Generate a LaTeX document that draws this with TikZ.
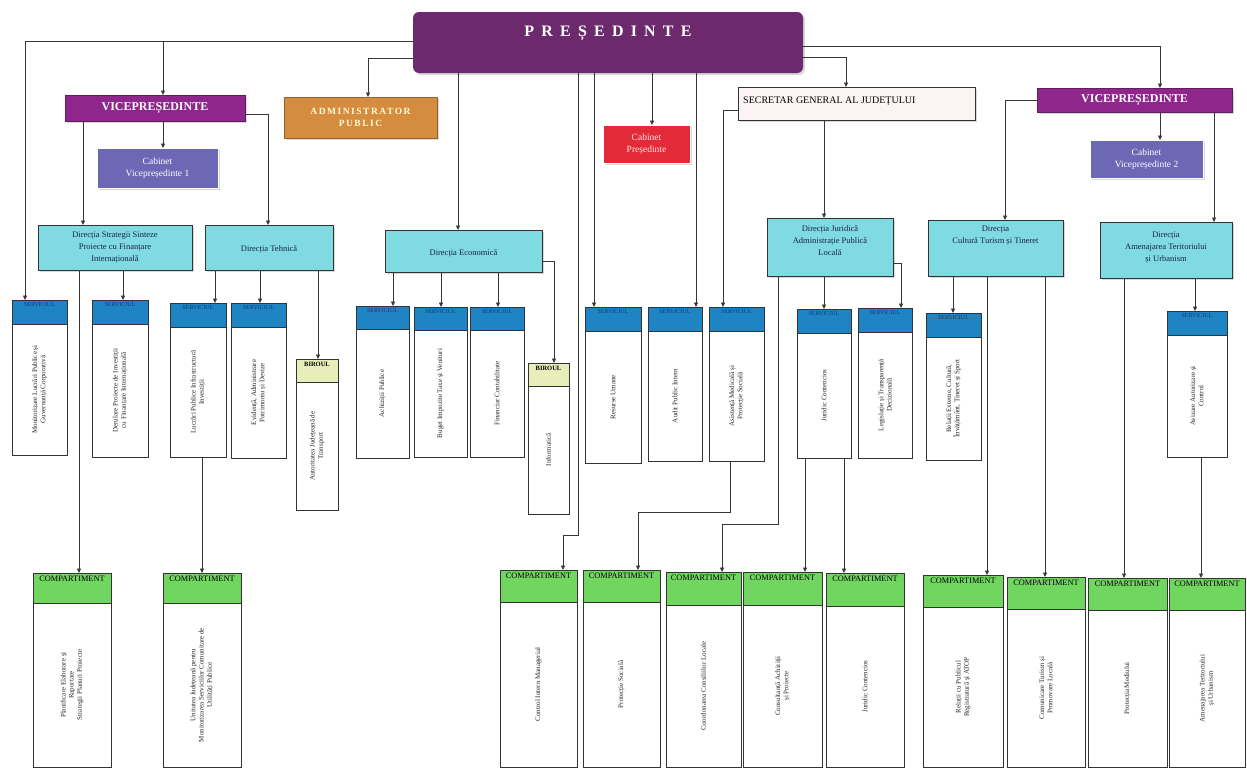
\documentclass[tikz,border=0pt]{standalone}
\usepackage{fontspec}
\setmainfont{Liberation Serif}
\newfontfamily\spacedfont[LetterSpace=45]{Liberation Serif}
\newfontfamily\admfont[LetterSpace=16]{Liberation Serif}
\usetikzlibrary{arrows.meta,calc,shadows}
\definecolor{cpres}{RGB}{108,42,108}
\definecolor{cvp}{RGB}{142,38,140}
\definecolor{cadm}{RGB}{214,140,62}
\definecolor{ccab}{RGB}{108,104,182}
\definecolor{ccabp}{RGB}{226,42,56}
\definecolor{csec}{RGB}{252,244,244}
\definecolor{cdir}{RGB}{128,218,226}
\definecolor{cserv}{RGB}{30,132,196}
\definecolor{cservt}{RGB}{20,60,110}
\definecolor{cbir}{RGB}{232,238,186}
\definecolor{ccomp}{RGB}{112,214,96}
\definecolor{cline}{RGB}{55,55,55}
\definecolor{cdtext}{RGB}{25,35,70}
\tikzset{
  base/.style={inner sep=0pt, outer sep=0pt, anchor=north west},
  shad/.style={drop shadow={shadow xshift=2pt,shadow yshift=-2pt,opacity=0.3}},
  presb/.style={base, fill=cpres, rounded corners=6pt, shad},
  vpb/.style={base, fill=cvp, draw=cvp!70!black, line width=0.5pt, shad, text=white,
     font=\bfseries\fontsize{12}{14}\selectfont},
  admb/.style={base, fill=cadm, draw=cadm!70!black, line width=0.5pt, shad, align=center,
     text=white!85!yellow, font=\admfont\bfseries\fontsize{9.5}{12}\selectfont},
  cabb/.style={base, fill=ccab, draw=white, line width=1pt, shad, align=center, text=white,
     font=\fontsize{9.5}{11.5}\selectfont},
  cabpb/.style={base, fill=ccabp, draw=white, line width=1pt, shad, align=center, text=white!90!red,
     font=\fontsize{9.5}{11.5}\selectfont},
  secb/.style={base, fill=csec, draw=black!80, line width=0.6pt, shad},
  dirb/.style={base, fill=cdir, draw=black!80, line width=0.8pt, shad},
  dirt/.style={inner sep=0pt, align=center, text=cdtext, font=\fontsize{8.5}{12}\selectfont},
  ubody/.style={base, fill=white, draw=black!80, line width=0.8pt},
  servh/.style={base, fill=cserv, draw=black!80, line width=0.8pt},
  birh/.style={base, fill=cbir, draw=black!80, line width=0.8pt},
  comph/.style={base, fill=ccomp, draw=black!80, line width=0.8pt},
  hlabel/.style={inner sep=0pt, font=\fontsize{6}{7}\selectfont},
  btext/.style={inner sep=0pt, rotate=90, align=center, text=black!85, font=\fontsize{7}{8.2}\selectfont},
  arr/.style={draw=cline, line width=0.7pt, -{Triangle[length=4.5pt,width=4pt]}},
}
% #1 name, #2 x1, #3 y1, #4 x2, #5 y2, #6 header style, #7 header height, #8 header label, #9 body text
\newcommand\unitbox[9]{%
  \node[ubody, minimum width={#4-#2}, minimum height={#5-#3}] (#1) at (#2,#3) {};
  \node[#6, minimum width={#4-#2}, minimum height={#7}] (#1h) at (#2,#3) {};
  \node[hlabel, anchor=north] (#1l) at ($(#1h.north)+(0,2.5)$) {#8};
  \node[btext] (#1t) at ($(#1h.south)!0.5!(#1.south)$) {#9};
}
\newcommand\dirbox[7]{%
  \node[dirb, minimum width={#4-#2}, minimum height={#5-#3}] (#1) at (#2,#3) {};
  \node[dirt] (#1t) at ($(#1.center)+(0,#6)$) {#7};
}
\newcommand\slab{{\color{cservt}SERVICIUL}}
\newcommand\blab{{\fontsize{6.5}{7}\selectfont\bfseries BIROUL}}
\newcommand\clab{{\fontsize{8.3}{9}\selectfont COMPARTIMENT}}
\begin{document}
\begin{tikzpicture}[x=1pt,y=-1pt]
\fill[white] (0,0) rectangle (1247,771);
\useasboundingbox (0,0) rectangle (1247,771);

% ---------- top level ----------
\node[presb, minimum width=390, minimum height=61] (pres) at (413,12) {};
\node[inner sep=0pt, text=white, font=\spacedfont\bfseries\fontsize{16}{18}\selectfont] (prest) at ($(pres.north)+(0,21)$) {PREȘEDINTE};

\node[vpb, minimum width=180, minimum height=26, anchor=north west] (vp1) at (65,95) {VICEPREȘEDINTE};
\node[cabb, minimum width=121, minimum height=40] (cab1) at (97,148) {Cabinet\\Vicepreședinte 1};
\node[admb, minimum width=153, minimum height=41] (adm) at (284,97) {ADMINISTRATOR\\PUBLIC};
\node[cabpb, minimum width=87, minimum height=38] (cabp) at (603,125) {Cabinet\\Președinte};
\node[secb, minimum width=237, minimum height=33] (sec) at (738,87) {};
\node[inner sep=0pt, anchor=west, font=\fontsize{10}{12}\selectfont] (sect) at ($(sec.west)+(5,-2)$) {SECRETAR GENERAL AL JUDEȚULUI};
\node[vpb, minimum width=195, minimum height=24] (vp2) at (1037,88) {VICEPREȘEDINTE};
\node[cabb, minimum width=113, minimum height=38] (cab2) at (1090,140) {Cabinet\\Vicepreședinte 2};

% ---------- directions ----------
\dirbox{dstr}{38}{225}{192}{270}{0}{Direcția Strategii Sinteze\\Proiecte cu Finanțare\\Internațională}
\dirbox{dteh}{205}{225}{333}{270}{2}{Direcția Tehnică}
\dirbox{deco}{385}{230}{542}{272}{2}{Direcția Economică}
\dirbox{djur}{767}{218}{893}{276}{-6}{Direcția Juridică\\Administrație Publică\\Locală}
\dirbox{dcul}{928}{220}{1063}{276}{-12}{Direcția\\Cultură Turism și Tineret}
\dirbox{dam}{1100}{222}{1232}{278}{-2}{Direcția\\Amenajarea Teritoriului\\și Urbanism}

% ---------- services / offices ----------
\unitbox{s1}{12}{300}{67}{455}{servh}{24}{\slab}{Monitorizare Lucrări Publice și\\Guvernanță Corporativă}
\unitbox{s2}{92}{300}{148}{457}{servh}{24}{\slab}{Derulare Proiecte de Investiții\\cu Finanțare Internațională}
\unitbox{s3}{170}{303}{226}{457}{servh}{24}{\slab}{Lucrări Publice Infrastructură\\Investiții}
\unitbox{s4}{231}{303}{286}{458}{servh}{24}{\slab}{Evidență, Administrare\\Patrimoniu și Devize}
\unitbox{b1}{296}{359}{338}{510}{birh}{23}{\blab}{Autoritatea Județeană de\\Transport}
\unitbox{s5}{356}{306}{409}{458}{servh}{23}{\slab}{Achiziții Publice}
\unitbox{s6}{414}{307}{467}{457}{servh}{23}{\slab}{Buget Impozite Taxe și Venituri}
\unitbox{s7}{470}{307}{524}{457}{servh}{23}{\slab}{Financiar Contabilitate}
\unitbox{b2}{528}{363}{569}{514}{birh}{23}{\blab}{Informatică}
\unitbox{s8}{585}{307}{641}{463}{servh}{24}{\slab}{Resurse Umane}
\unitbox{s9}{648}{307}{702}{461}{servh}{24}{\slab}{Audit Public Intern}
\unitbox{s10}{709}{307}{764}{461}{servh}{24}{\slab}{Asistență Medicală și\\Protecție Socială}
\unitbox{s11}{797}{309}{851}{458}{servh}{24}{\slab}{Juridic Contencios}
\unitbox{s12}{858}{308}{912}{458}{servh}{24}{\slab}{Legislație și Transparență\\Decizională}
\unitbox{s13}{926}{313}{981}{460}{servh}{24}{\slab}{Relații Externe, Cultură,\\Învățământ, Tineret și Sport}
\unitbox{s14}{1167}{311}{1227}{457}{servh}{24}{\slab}{Avizare Autorizare și\\Control}

% ---------- compartments ----------
\unitbox{c1}{33}{573}{111}{767}{comph}{30}{\clab}{Planificare Elaborare și\\Raportare\\Strategii Planuri Proiecte}
\unitbox{c2}{163}{573}{241}{767}{comph}{30}{\clab}{Unitatea Județeană pentru\\Monitorizarea Serviciilor Comunitare de\\Utilități Publice}
\unitbox{c3}{500}{570}{577}{767}{comph}{32}{\clab}{Control Intern Managerial}
\unitbox{c4}{583}{570}{660}{767}{comph}{32}{\clab}{Protecție Socială}
\unitbox{c5}{666}{572}{741}{767}{comph}{33}{\clab}{Coordonarea Consiliilor Locale}
\unitbox{c6}{743}{572}{822}{767}{comph}{33}{\clab}{Consultanță Achiziții\\și Proiecte}
\unitbox{c7}{826}{573}{904}{767}{comph}{33}{\clab}{Juridic Contencios}
\unitbox{c8}{923}{575}{1003}{767}{comph}{32}{\clab}{Relații cu Publicul\\Registratură și ATOP}
\unitbox{c9}{1007}{577}{1085}{767}{comph}{32}{\clab}{Comunicare Turism și\\Promovare Locală}
\unitbox{c10}{1088}{578}{1167}{767}{comph}{32}{\clab}{Protecția Mediului}
\unitbox{c11}{1169}{578}{1245}{767}{comph}{32}{\clab}{Amenajarea Teritoriului\\și Urbanism}

% ---------- ports ----------
\coordinate (s1in) at ($(s1.north west)+(13,0)$);
\coordinate (vp1in) at ($(vp1.north west)+(98,0)$);
\coordinate (admin) at ($(adm.north west)+(84,0)$);
\coordinate (cab1in) at ($(cab1.north west)+(66,0)$);
\coordinate (dstrin) at ($(dstr.north west)+(45,0)$);
\coordinate (dtehin) at ($(dteh.north west)+(63,0)$);
\coordinate (decoin) at ($(deco.north west)+(73,0)$);
\coordinate (j3) at ($(c3.north west)+(78,-35)$);
\coordinate (c3in) at ($(c3.north west)+(63,0)$);
\coordinate (s8in) at ($(s8.north west)+(9,0)$);
\coordinate (cabpin) at ($(cabp.north west)+(49,0)$);
\coordinate (s9in) at ($(s9.north west)+(48,0)$);
\coordinate (secin) at ($(sec.north west)+(108,0)$);
\coordinate (vp2in) at ($(vp2.north west)+(123,0)$);
\coordinate (cab2in) at ($(cab2.north west)+(70,0)$);
\coordinate (s10in) at ($(s10.north west)+(14,0)$);
\coordinate (djurin) at ($(djur.north west)+(57,0)$);
\coordinate (dculin) at ($(dcul.north west)+(77,0)$);
\coordinate (damin) at ($(dam.north west)+(114,0)$);
\coordinate (s2in) at ($(s2.north west)+(31,0)$);
\coordinate (c1in) at ($(c1.north west)+(46,0)$);
\coordinate (s3in) at ($(s3.north west)+(45,0)$);
\coordinate (s4in) at ($(s4.north west)+(29,0)$);
\coordinate (b1in) at ($(b1.north west)+(22,0)$);
\coordinate (c2in) at ($(c2.north west)+(39,0)$);
\coordinate (s5in) at ($(s5.north west)+(37,0)$);
\coordinate (s6in) at ($(s6.north west)+(27,0)$);
\coordinate (s7in) at ($(s7.north west)+(28,0)$);
\coordinate (b2in) at ($(b2.north west)+(26,0)$);
\coordinate (j4) at ($(c4.north west)+(147,-58)$);
\coordinate (c4in) at ($(c4.north west)+(55,0)$);
\coordinate (s11in) at ($(s11.north west)+(27,0)$);
\coordinate (s12in) at ($(s12.north west)+(43,0)$);
\coordinate (j5) at ($(c5.north west)+(112,-48)$);
\coordinate (c5in) at ($(c5.north west)+(56,0)$);
\coordinate (c6in) at ($(c6.north west)+(62,0)$);
\coordinate (c7in) at ($(c7.north west)+(18,0)$);
\coordinate (s13in) at ($(s13.north west)+(27,0)$);
\coordinate (c8in) at ($(c8.north west)+(64,0)$);
\coordinate (c9in) at ($(c9.north west)+(38,0)$);
\coordinate (s14in) at ($(s14.north west)+(28,0)$);
\coordinate (c10in) at ($(c10.north west)+(36,0)$);
\coordinate (c11in) at ($(c11.north west)+(32,0)$);

% ---------- connectors ----------
\draw[arr] ($(pres.north west)+(0,29)$) -| (s1in);
\draw[arr] ($(pres.north west)+(0,29)$) -| (vp1in);
\draw[arr] ($(pres.north west)+(0,46)$) -| (admin);
\draw[arr] (decoin |- pres.south) -- (decoin);
\draw[arr] (j3 |- pres.south) -- (j3) -| (c3in);
\draw[arr] (s8in |- pres.south) -- (s8in);
\draw[arr] (cabpin |- pres.south) -- (cabpin);
\draw[arr] (s9in |- pres.south) -- (s9in);
\draw[arr] ($(pres.north east)+(0,45)$) -| (secin);
\draw[arr] ($(pres.north east)+(0,34)$) -| (vp2in);
\draw[arr] (cab1in |- vp1.south) -- (cab1in);
\draw[arr] (dstrin |- vp1.south) -- (dstrin);
\draw[arr] ($(vp1.north east)+(0,19)$) -| (dtehin);
\draw[arr] ($(sec.north west)+(0,23)$) -| (s10in);
\draw[arr] (djurin |- sec.south) -- (djurin);
\draw[arr] (cab2in |- vp2.south) -- (cab2in);
\draw[arr] ($(vp2.north west)+(0,12)$) -| (dculin);
\draw[arr] (damin |- vp2.south) -- (damin);
\draw[arr] (s2in |- dstr.south) -- (s2in);
\draw[arr] (c1in |- dstr.south) -- (c1in);
\draw[arr] (s3in |- dteh.south) -- (s3in);
\draw[arr] (s4in |- dteh.south) -- (s4in);
\draw[arr] (b1in |- dteh.south) -- (b1in);
\draw[arr] (c2in |- s3.south) -- (c2in);
\draw[arr] (s5in |- deco.south) -- (s5in);
\draw[arr] (s6in |- deco.south) -- (s6in);
\draw[arr] (s7in |- deco.south) -- (s7in);
\draw[arr] ($(deco.north east)+(0,31)$) -| (b2in);
\draw[arr] (j4 |- s10.south) -- (j4) -| (c4in);
\draw[arr] (s11in |- djur.south) -- (s11in);
\draw[arr] ($(djur.north east)+(0,45)$) -| (s12in);
\draw[arr] (j5 |- djur.south) -- (j5) -| (c5in);
\draw[arr] (c6in |- s11.south) -- (c6in);
\draw[arr] (c7in |- s11.south) -- (c7in);
\draw[arr] (s13in |- dcul.south) -- (s13in);
\draw[arr] (c8in |- dcul.south) -- (c8in);
\draw[arr] (c9in |- dcul.south) -- (c9in);
\draw[arr] (s14in |- dam.south) -- (s14in);
\draw[arr] (c10in |- dam.south) -- (c10in);
\draw[arr] (c11in |- s14.south) -- (c11in);
\end{tikzpicture}
\end{document}
